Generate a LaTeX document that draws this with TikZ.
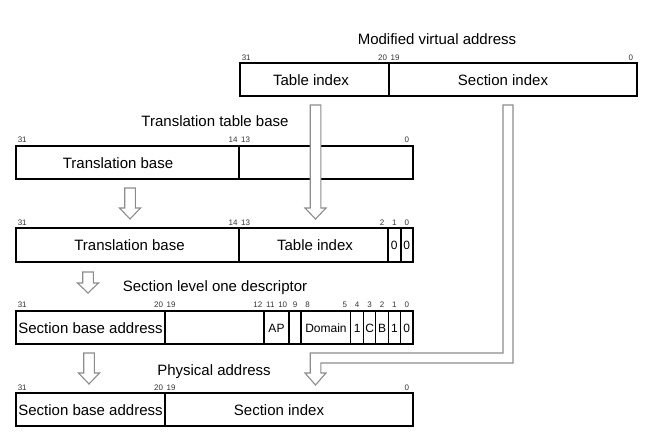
\documentclass[tikz,border=0pt]{standalone}
\usepackage{fontspec}
\setmainfont{Liberation Sans}
\tikzset{
 boxline/.style={draw=black, line width=1.1pt},
 divline/.style={draw=black, line width=1.8pt},
 thinline/.style={draw=black, line width=1pt},
 title/.style={font=\fontsize{15}{18}\selectfont, anchor=base, inner sep=0pt},
 field/.style={font=\fontsize{15}{18}\selectfont, anchor=base, inner sep=0pt},
 small/.style={font=\fontsize{12}{14}\selectfont, anchor=base, inner sep=0pt},
 bitnum/.style={font=\fontsize{8}{9}\selectfont, anchor=base, inner sep=0pt, text=black!80},
 hollow/.style={draw=black!45, fill=white, line width=1.1pt, line join=miter},
}
\newcommand\bitlab[4]{\node[bitnum] (#1) at ({#2+(31-#3+0.5)*12.406},#4) {#3};}
\newcommand\hollowdown[4]{%
 \draw[hollow] ({#1-5.3},#2) -- ({#1+5.3},#2) -- ({#1+5.3},#3) -- ({#1+10.5},#3)
   -- (#1,#4) -- ({#1-10.5},#3) -- ({#1-5.3},#3) -- cycle;}
\begin{document}
\begin{tikzpicture}[x=1pt,y=-1pt]
\useasboundingbox (0,0) rectangle (661,444);
% ---- boxes ----
% Modified virtual address
\draw[boxline] (240,63) rectangle (637,96);
\draw[divline] (388.9,63) -- (388.9,96);
% Translation table base
\draw[boxline] (16,146) rectangle (413,179);
\draw[divline] (239.3,146) -- (239.3,179);
% Table address
\draw[boxline] (16,228) rectangle (413,262);
\draw[divline] (239.3,228) -- (239.3,262);
\draw[divline] (388.2,228) -- (388.2,262);
\draw[divline] (400.6,228) -- (400.6,262);
% Section descriptor
\draw[boxline] (16,311) rectangle (413,344);
\foreach \x in {164.9,264.1,288.9,301.3}
  \draw[divline] (\x,311) -- (\x,344);
\foreach \x in {350.96,363.4,375.8,388.2,400.6}
  \draw[thinline] (\x,311) -- (\x,344);
% Physical address
\draw[boxline] (16,393) rectangle (413,426);
\draw[divline] (164.9,393) -- (164.9,426);
% ---- hollow arrows ----
\hollowdown{130}{188}{208}{219}
\hollowdown{315.5}{105}{208}{219}
\hollowdown{88}{272}{283}{293}
\hollowdown{89}{353}{373}{384}
\draw[hollow] (503,105) -- (513,105) -- (513,363) -- (320.8,363) -- (320.8,373)
  -- (326,373) -- (315.5,385) -- (305,373) -- (310.2,373) -- (310.2,353)
  -- (503,353) -- cycle;
% ---- titles ----
\node[title] (tmva) at (437,45) {Modified virtual address};
\node[title] (tttb) at (215,126) {Translation table base};
\node[title] (tdesc) at (215,291) {Section level one descriptor};
\node[title] (tpa) at (214,375) {Physical address};
% ---- bit numbers ----
\foreach \b in {31,20,19,0} {\bitlab{mva\b}{240}{\b}{60.5}}
\foreach \b in {31,14,13,0} {\bitlab{ttb\b}{16}{\b}{142.5}}
\foreach \b in {31,14,13,2,1,0} {\bitlab{tad\b}{16}{\b}{225}}
\foreach \b in {31,20,19,12,11,10,9,8,5,4,3,2,1,0} {\bitlab{dsc\b}{16}{\b}{307.5}}
\foreach \b in {31,20,19,0} {\bitlab{pa\b}{16}{\b}{390.5}}
% ---- field texts ----
\node[field] (mvati) at (311,85) {Table index};
\node[field] (mvasi) at (503,85) {Section index};
\node[field] (ttbtb) at (118,168) {Translation base};
\node[field] (tadtb) at (129.5,250.5) {Translation base};
\node[field] (tadti) at (315,250.5) {Table index};
\node[small] (tad1) at (394.2,249.3) {0};
\node[small] (tad0) at (406.6,249.3) {0};
\node[field] (dscsba) at (90.5,333) {Section base address};
\node[small] (dscap) at (276.5,332) {AP};
\node[small] (dscdom) at (326,332) {Domain};
\node[small] (dsc4) at (357.2,332) {1};
\node[small] (dsc3) at (369.6,332) {C};
\node[small] (dsc2) at (382,332) {B};
\node[small] (dsc1) at (394.4,332) {1};
\node[small] (dsc0) at (406.8,332) {0};
\node[field] (pasba) at (90.5,415) {Section base address};
\node[field] (pasi) at (279,415) {Section index};
\end{tikzpicture}
\end{document}
